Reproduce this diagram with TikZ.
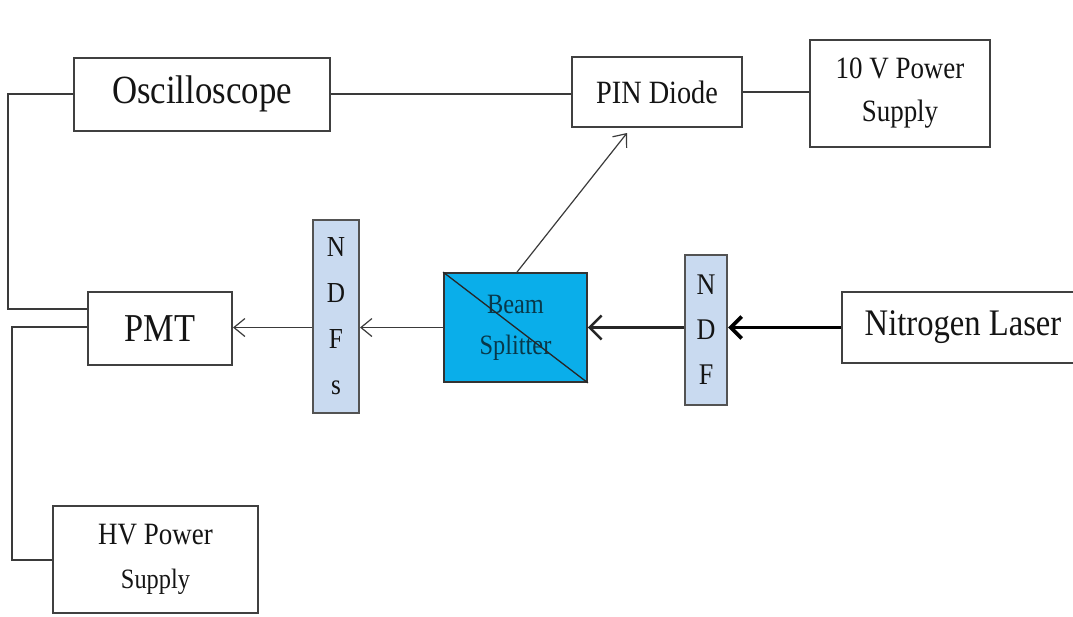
\documentclass[tikz,border=0pt]{standalone}
\usepackage{fontspec}
\setmainfont[FakeStretch=0.87]{Liberation Serif}
\usetikzlibrary{arrows.meta}
\definecolor{edge}{HTML}{404040}
\definecolor{wire}{HTML}{3A3A3A}
\definecolor{bsblue}{HTML}{0AAEEA}
\definecolor{bstext}{HTML}{08384A}
\definecolor{ndfblue}{HTML}{C9DAF0}
\newcommand{\fs}[2]{\fontsize{#1}{#2}\selectfont}
\begin{document}
\begin{tikzpicture}[x=1pt,y=-1pt,
  box/.style={draw=edge,line width=2pt,fill=white,inner sep=0pt,align=center,text=black!92},
  filterbox/.style={box,fill=ndfblue,draw=edge!90},
  wireline/.style={draw=wire,line width=2pt},
  thinarrow/.style={draw=wire,line width=1.2pt,-{Straight Barb[length=11pt,width=18pt]}},
  midarrow/.style={draw=black!85,line width=2.4pt,-{Straight Barb[length=12pt,width=24pt]}},
  boldarrow/.style={draw=black,line width=3.8pt,-{Straight Barb[length=11pt,width=22pt]}}]
\useasboundingbox (0,0) rectangle (1073,616);

% instruments
\node[box,minimum width=256pt,minimum height=73pt,font=\fs{40}{44}] (osc) at (202,94) {Oscilloscope};
\node[box,minimum width=170pt,minimum height=70pt,font=\fs{32.5}{36}] (pin) at (657,92) {PIN Diode};
\node[box,minimum width=180pt,minimum height=107pt,font=\fs{31}{43}] (psu) at (900,93.5) {10 V Power\\Supply};
\node[box,minimum width=144pt,minimum height=73pt,font=\fs{39.5}{44}] (pmt) at (160,328.5) {PMT};
\node[box,minimum width=205pt,minimum height=107pt,font=\fs{31}{44}] (hv) at (155.5,559.5) {HV Power\\\fs{28}{44}Supply};
\node[box,minimum width=242pt,minimum height=71pt,font=\fs{37.5}{40}] (laser) at (963,327.5) {Nitrogen Laser};

% optics
\node[filterbox,minimum width=46pt,minimum height=193pt,font=\fs{29}{46}] (ndfs) at (336,316.5) {N\\D\\F\\s};
\node[filterbox,minimum width=42pt,minimum height=150pt,font=\fs{30}{45}] (ndf) at (706,330) {\raisebox{-5pt}{N}\\\raisebox{-5pt}{D}\\\raisebox{-5pt}{F}};
\node[box,fill=bsblue,draw=black!80,line width=1.8pt,minimum width=143pt,minimum height=109pt,text=bstext,font=\fs{28}{41}] (bs) at (515.5,327.5) {Beam\\Splitter};
\draw[black!85,line width=1.3pt] (bs.north west) -- (bs.south east);

% electrical wiring
\draw[wireline] (osc.west) -- ++(-65,0) |- ([yshift=20pt]pmt.west);
\draw[wireline] ([yshift=2pt]pmt.west) -- ++(-75,0) |- (hv.west);
\draw[wireline] (osc.east) -- (osc.east -| pin.west);
\draw[wireline] (pin.east) -- (pin.east -| psu.west);

% beam path
\draw[boldarrow] (laser.west |- bs) -- (ndf.east |- bs);
\draw[midarrow] (ndf.west |- bs) -- (bs.east);
\draw[thinarrow] (bs.west) -- (ndfs.east |- bs);
\draw[thinarrow] (ndfs.west |- bs) -- (pmt.east |- bs);
\draw[thinarrow] ([xshift=1.5pt]bs.north) -- ([xshift=-30pt,yshift=-5pt]pin.south);
\end{tikzpicture}
\end{document}
